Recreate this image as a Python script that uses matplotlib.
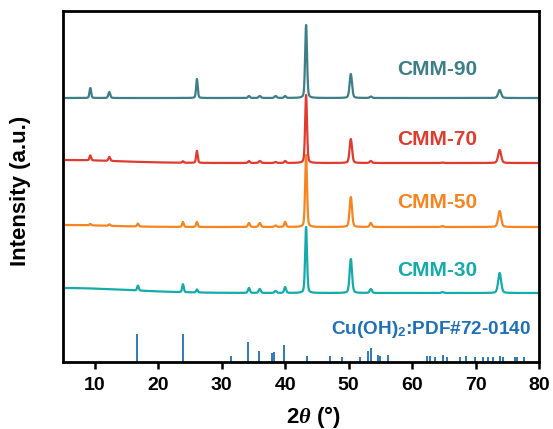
import numpy as np
import matplotlib.pyplot as plt

plt.rcParams['font.family'] = ['Liberation Sans', 'DejaVu Sans']
plt.rcParams['font.weight'] = 'bold'
plt.rcParams['mathtext.fontset'] = 'custom'
plt.rcParams['mathtext.rm'] = 'Liberation Sans:bold'
plt.rcParams['mathtext.it'] = 'Liberation Serif:bold:italic'

# peak positions (2theta) shared by the samples
peak_pos = [9.3, 12.3, 16.8, 23.9, 26.1, 34.3, 36.0, 38.5, 40.0, 43.3, 50.35, 53.5, 64.8, 73.8]
peak_wid = [0.3, 0.35, 0.3, 0.3, 0.3, 0.35, 0.4, 0.4, 0.35, 0.35, 0.45, 0.4, 0.4, 0.55]

# peak heights above each baseline (a.u.)
h_cmm90 = [10, 6, 0, 0, 19, 2, 2, 2, 2, 73, 24, 1.5, 0, 8]
h_cmm70 = [5, 4, 0, 1.5, 12, 2, 2, 1, 2, 68, 24, 2, 0.5, 13]
h_cmm50 = [1.5, 1.5, 3, 5, 5, 4, 4, 1.5, 5, 72, 30, 4, 1, 16]
h_cmm30 = [0, 0, 5, 8, 3, 5, 4, 2, 6, 66, 34, 4, 1, 20]

# baseline offsets and low-angle background rise (height, width)
offsets = {'CMM-30': 69, 'CMM-50': 135, 'CMM-70': 199, 'CMM-90': 264}
low_bg = {'CMM-30': (5, 14), 'CMM-50': (2, 10), 'CMM-70': (3, 12), 'CMM-90': (0, 10)}
colors = {'CMM-30': '#15abab', 'CMM-50': '#f6851f', 'CMM-70': '#e03b2f', 'CMM-90': '#3e7f87'}
heights = {'CMM-30': h_cmm30, 'CMM-50': h_cmm50, 'CMM-70': h_cmm70, 'CMM-90': h_cmm90}
label_y = {'CMM-30': 91, 'CMM-50': 159, 'CMM-70': 222, 'CMM-90': 292}

# Cu(OH)2 reference PDF#72-0140 sticks
ref_pos = [16.7, 23.85, 31.5, 34.1, 35.9, 38.0, 38.3, 39.9, 43.5, 47.1, 48.9, 51.8, 53.1, 53.5,
           54.7, 55.0, 56.2, 62.3, 62.9, 63.6, 64.8, 65.5, 67.6, 68.5, 69.9, 71.2, 72.0, 72.7,
           73.8, 74.3, 76.2, 76.5, 77.7]
ref_int = [28, 28, 6, 20, 11, 9, 10, 17, 6, 6, 5, 5, 11, 14,
           7, 6, 7, 6, 6, 5, 7, 5, 5, 6, 5, 5, 5, 5,
           6, 5, 5, 5, 5]

x = np.arange(5, 80.01, 0.02)


def profile(name):
    y = np.full_like(x, offsets[name], dtype=float)
    bh, bw = low_bg[name]
    y += bh * np.exp(-((x - 5) / bw) ** 2)
    for c, w, h in zip(peak_pos, peak_wid, heights[name]):
        s = w / 2.355
        g = np.exp(-0.5 * ((x - c) / s) ** 2)
        l = 1 / (1 + ((x - c) / (w / 2)) ** 2)
        y += h * (0.7 * g + 0.3 * l)
    return y


fig = plt.figure(figsize=(5.53, 4.29), dpi=100)
ax = fig.add_axes([63 / 553, 67 / 429, 476 / 553, 351 / 429])

for name in ['CMM-30', 'CMM-50', 'CMM-70', 'CMM-90']:
    ax.plot(x, profile(name), color=colors[name], lw=1.6)
    ax.text(63.9, label_y[name], name, color=colors[name], fontsize=15,
            fontweight='bold', ha='center', va='center')

ax.vlines(ref_pos, 0, ref_int, color='#1f70b6', lw=1.3)
ax.text(78.7, 32, r'Cu(OH)$_2$:PDF#72-0140', color='#1f70b6', fontsize=13.7,
        fontweight='bold', ha='right', va='center')

ax.set_xlim(5, 80)
ax.set_ylim(0, 351)
ax.set_xticks(range(10, 81, 10))
ax.set_yticks([])
ax.tick_params(axis='x', direction='out', length=5, width=1.8, labelsize=14, pad=6)
for sp in ax.spines.values():
    sp.set_linewidth(2)
ax.set_xlabel(r'2$\it{\theta}$ (°)', fontsize=16, fontweight='bold')
ax.set_ylabel('Intensity (a.u.)', fontsize=16, fontweight='bold')
ax.xaxis.set_label_coords(0.525, -0.12)
ax.yaxis.set_label_coords(-0.068, 0.487)

fig.savefig('out.png', dpi=100)
